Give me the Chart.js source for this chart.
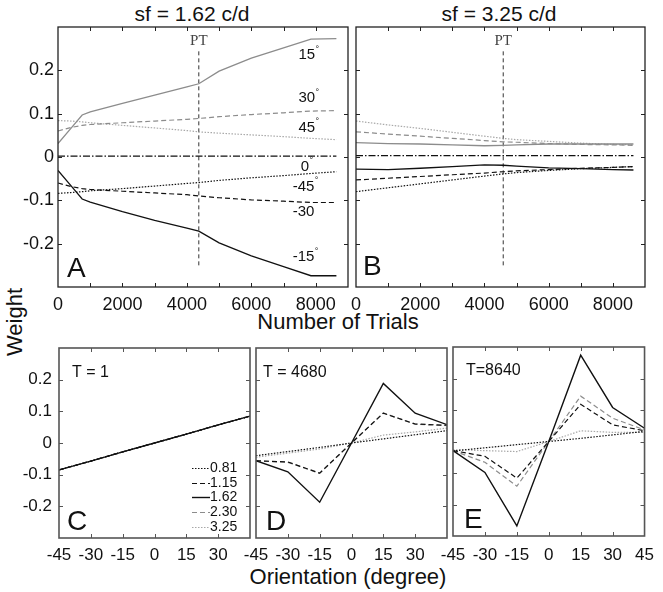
<!DOCTYPE html>
<html>
<head>
<meta charset="utf-8">
<script src="https://cdn.jsdelivr.net/npm/chart.js@4.4.1/dist/chart.umd.min.js"></script>
<style>
  body { margin: 0; background: #fff; }
  #fig { position: relative; width: 663px; height: 592px; overflow: hidden; font-family: "Liberation Sans", Arial, sans-serif; color: #111; }
  #fig canvas { position: absolute; left: 0; top: 0; }
  .lbl { position: absolute; white-space: nowrap; text-align: center; line-height: 1; }
</style>
</head>
<body>
<div id="fig">
  <div class="lbl" style="left:92px;width:200px;top:3px;font-size:21px">sf = 1.62 c/d</div>
  <div class="lbl" style="left:399px;width:200px;top:3px;font-size:21px">sf = 3.25 c/d</div>
  <div class="lbl" style="left:238px;width:200px;top:311px;font-size:22px">Number of Trials</div>
  <div class="lbl" style="left:-85px;width:200px;top:311px;font-size:22px;transform:rotate(-90deg)">Weight</div>
  <div class="lbl" style="left:198px;width:300px;top:566px;font-size:22px">Orientation (degree)</div>
</div>
<script>
// ---- data: top panels (weight vs number of trials) ----
const trialsA = [0, 400, 750, 1000, 2000, 3000, 4000, 4370, 5000, 6000, 7000, 7850, 8640];
const wA15  = [0.031, 0.066, 0.097, 0.104, 0.124, 0.143, 0.162, 0.169, 0.198, 0.228, 0.252, 0.272, 0.273];
const wA30  = [0.060, 0.068, 0.073, 0.075, 0.079, 0.083, 0.087, 0.089, 0.093, 0.098, 0.102, 0.106, 0.107];
const wA45  = [0.084, 0.083, 0.081, 0.079, 0.073, 0.067, 0.061, 0.058, 0.055, 0.051, 0.047, 0.043, 0.040];
const wA0   = [0.002, 0.002, 0.002, 0.002, 0.002, 0.002, 0.002, 0.002, 0.002, 0.002, 0.002, 0.002, 0.002];
const wAm15 = [-0.031, -0.066, -0.097, -0.104, -0.126, -0.146, -0.164, -0.171, -0.198, -0.228, -0.253, -0.274, -0.274];
const wAm30 = [-0.060, -0.068, -0.073, -0.075, -0.079, -0.083, -0.087, -0.090, -0.094, -0.099, -0.102, -0.105, -0.105];
const wAm45 = [-0.084, -0.082, -0.080, -0.078, -0.073, -0.067, -0.061, -0.059, -0.054, -0.048, -0.043, -0.038, -0.034];
const ptA = 4370;

const trialsB = [0, 1000, 2000, 3000, 4000, 4585, 5000, 6000, 7000, 8000, 8640];
const wB15  = [0.033, 0.031, 0.030, 0.028, 0.026, 0.027, 0.028, 0.030, 0.030, 0.030, 0.030];
const wB30  = [0.058, 0.053, 0.048, 0.043, 0.038, 0.035, 0.034, 0.031, 0.029, 0.028, 0.027];
const wB45  = [0.083, 0.074, 0.066, 0.057, 0.048, 0.043, 0.040, 0.036, 0.032, 0.029, 0.028];
const wB0   = [0.003, 0.003, 0.003, 0.003, 0.003, 0.003, 0.003, 0.003, 0.003, 0.003, 0.003];
const wBm15 = [-0.028, -0.029, -0.026, -0.022, -0.018, -0.019, -0.021, -0.025, -0.027, -0.029, -0.030];
const wBm30 = [-0.053, -0.049, -0.045, -0.041, -0.037, -0.034, -0.032, -0.029, -0.026, -0.024, -0.022];
const wBm45 = [-0.080, -0.071, -0.062, -0.053, -0.044, -0.039, -0.036, -0.031, -0.027, -0.024, -0.022];
const ptB = 4585;
const ptSpan = [-0.25, 0.25];

// ---- data: bottom panels (weight vs orientation, one series per sf) ----
const orient = [-45, -30, -15, 0, 15, 30, 45];
const sfNames = ['0.81', '1.15', '1.62', '2.30', '3.25'];
const c081 = [-0.085, -0.057, -0.028, 0, 0.028, 0.057, 0.085];
const c115 = [-0.085, -0.057, -0.028, 0, 0.028, 0.057, 0.085];
const c162 = [-0.085, -0.057, -0.028, 0, 0.028, 0.057, 0.085];
const c230 = [-0.085, -0.057, -0.028, 0, 0.028, 0.057, 0.085];
const c325 = [-0.085, -0.057, -0.028, 0, 0.028, 0.057, 0.085];
const d081 = [-0.040, -0.027, -0.014, 0, 0.013, 0.026, 0.039];
const d115 = [-0.056, -0.060, -0.095, 0, 0.094, 0.060, 0.056];
const d162 = [-0.056, -0.091, -0.187, 0, 0.188, 0.094, 0.058];
const d230 = [-0.056, -0.061, -0.096, 0, 0.095, 0.059, 0.055];
const d325 = [-0.045, -0.032, -0.019, 0, 0.025, 0.035, 0.047];
const e081 = [-0.030, -0.020, -0.010, 0, 0.010, 0.021, 0.032];
const e115 = [-0.029, -0.047, -0.116, 0, 0.118, 0.053, 0.034];
const e162 = [-0.029, -0.098, -0.268, 0, 0.274, 0.108, 0.042];
const e230 = [-0.029, -0.066, -0.142, 0, 0.144, 0.074, 0.037];
const e325 = [-0.026, -0.029, -0.032, 0, 0.034, 0.029, 0.029];

const W = 663, H = 592;
const BLACK = '#111', GRAY = '#8c8c8c', LGRAY = '#a8a8a8';
const DOT = [1.5, 1.5], DASH = [5, 3], DASHDOT = [7, 2, 1.5, 2];
const FAM = '"Liberation Sans", Arial, sans-serif';

Chart.defaults.font.family = FAM;
Chart.defaults.color = '#111';

function pts(xs, ys) { return xs.map((x, i) => ({ x, y: ys[i] })); }
function line(data, color, dash, width, label) {
    return { label, data, borderColor: color, borderDash: dash, borderWidth: width || 1.2,
             pointRadius: 0, tension: 0, fill: false };
}
function ptLine(x) {
    return line([{ x, y: ptSpan[0] }, { x, y: ptSpan[1] }], '#333', [4, 3], 1);
}

// box + inward tick marks, texts and the small legend (plain closure, no option proxies)
function decor(c) {
    return {
        id: 'decor',
        afterDatasetsDraw(chart) {
            const { ctx, chartArea: a, scales } = chart;
            ctx.save();
            ctx.setLineDash([]);
            ctx.strokeStyle = c.frame;
            ctx.lineWidth = 1;
            ctx.beginPath();
            scales.x.ticks.forEach(t => {
                const p = Math.round(scales.x.getPixelForValue(t.value)) + 0.5;
                if (p <= a.left + 2 || p >= a.right - 2) return;
                ctx.moveTo(p, a.bottom); ctx.lineTo(p, a.bottom - 4);
                ctx.moveTo(p, a.top); ctx.lineTo(p, a.top + 4);
            });
            scales.y.ticks.forEach(t => {
                const p = Math.round(scales.y.getPixelForValue(t.value)) + 0.5;
                if (p <= a.top + 2 || p >= a.bottom - 2) return;
                ctx.moveTo(a.left, p); ctx.lineTo(a.left + 4, p);
                ctx.moveTo(a.right, p); ctx.lineTo(a.right - 4, p);
            });
            ctx.stroke();
            ctx.lineWidth = c.frameW;
            ctx.strokeRect(a.left, a.top, a.right - a.left, a.bottom - a.top);

            (c.notes || []).forEach(n => {
                let x, y;
                if (n.at) { x = scales.x.getPixelForValue(n.at[0]); y = scales.y.getPixelForValue(n.at[1]); }
                else { x = a.left + n.dx; y = (n.top !== undefined) ? a.top + n.top : a.bottom - n.bottom; }
                ctx.font = n.font;
                ctx.fillStyle = n.color || '#111';
                ctx.textAlign = n.align || 'left';
                ctx.textBaseline = n.baseline || 'alphabetic';
                ctx.fillText(n.text, x, y);
                if (n.deg) {
                    const w = ctx.measureText(n.text).width;
                    const x0 = n.align === 'center' ? x + w / 2 : x + w;
                    ctx.font = '9px ' + FAM;
                    ctx.textAlign = 'left';
                    ctx.textBaseline = 'middle';
                    ctx.fillText('\u00b0', x0 + 0.5, y - 6);
                }
            });

            if (c.legend) {
                const L = c.legend, sets = chart.data.datasets;
                sets.forEach((ds, i) => {
                    const y = Math.round(a.bottom - L.bottom - (sets.length - 1 - i) * L.step) + 0.5;
                    const x1 = a.right - L.right;
                    ctx.strokeStyle = ds.borderColor;
                    ctx.lineWidth = ds.borderWidth;
                    ctx.setLineDash(ds.borderDash || []);
                    ctx.beginPath();
                    ctx.moveTo(x1 - 18, y); ctx.lineTo(x1, y);
                    ctx.stroke();
                    ctx.setLineDash([]);
                    ctx.font = L.font;
                    ctx.fillStyle = '#111';
                    ctx.textAlign = 'left';
                    ctx.textBaseline = 'middle';
                    ctx.fillText(ds.label, x1, y);
                });
            }
            ctx.restore();
        }
    };
}

function yTick(v) {
    const r = Math.round(v * 10) / 10;
    if (Math.abs(r) > 0.25) return '';
    return r === 0 ? '0' : r.toFixed(1);
}

function panel(c) {
    const cv = document.createElement('canvas');
    cv.width = W; cv.height = H;
    document.getElementById('fig').appendChild(cv);
    const yw = c.yLabels ? c.yw : 0;
    new Chart(cv, {
        type: 'line',
        data: { datasets: c.datasets },
        options: {
            responsive: false, animation: false, devicePixelRatio: 1,
            layout: { padding: { left: c.box[0] - yw, top: c.box[1], right: W - c.box[2], bottom: H - c.box[3] - c.xh } },
            plugins: { legend: { display: false }, tooltip: { enabled: false } },
            scales: {
                x: {
                    type: 'linear', min: c.xMin, max: c.xMax,
                    afterFit: s => { s.height = c.xh; },
                    grid: { display: false, drawTicks: false }, border: { display: false },
                    ticks: { stepSize: c.xStep, autoSkip: false, maxRotation: 0, padding: c.xPad,
                             font: { size: c.fs }, color: '#111', callback: c.xTick }
                },
                y: {
                    min: -0.3, max: 0.3,
                    afterFit: s => { s.width = yw; },
                    grid: { display: false, drawTicks: false }, border: { display: false },
                    ticks: { stepSize: 0.1, display: c.yLabels, padding: c.yPad,
                             font: { size: c.fs }, color: '#111', callback: yTick }
                }
            }
        },
        plugins: [decor(c)]
    });
}

const trialTick = v => (v % 2000 === 0 && v < 9000) ? String(v) : '';
const bigFont = '28px ' + FAM;
const letFont = '28px ' + FAM;
const angFont = '15px ' + FAM;
const ptFont = '15px "Liberation Serif", "Times New Roman", serif';
const tFont = '16px ' + FAM;

// A
panel({
    box: [58, 27, 348, 287], xh: 30, yw: 50, yLabels: true, xPad: 7, yPad: 4, fs: 18,
    xMin: 0, xMax: 9000, xStep: 1000, xTick: trialTick, frame: '#222', frameW: 1.3,
    datasets: [
        line(pts(trialsA, wA15), GRAY, [], 1.3),
        line(pts(trialsA, wA30), GRAY, DASH),
        line(pts(trialsA, wA45), LGRAY, DOT),
        line(pts(trialsA, wA0), BLACK, DASHDOT),
        line(pts(trialsA, wAm15), BLACK, [], 1.3),
        line(pts(trialsA, wAm30), BLACK, DASH),
        line(pts(trialsA, wAm45), BLACK, DOT),
        ptLine(ptA)
    ],
    notes: [
        { text: 'PT', at: [ptA, 0.25], font: ptFont, align: 'center', baseline: 'bottom', color: '#444' },
        { text: '15', at: [7720, 0.235], font: angFont, align: 'center', baseline: 'middle', deg: true },
        { text: '30', at: [7720, 0.136], font: angFont, align: 'center', baseline: 'middle', deg: true },
        { text: '45', at: [7720, 0.067], font: angFont, align: 'center', baseline: 'middle', deg: true },
        { text: '0', at: [7660, -0.023], font: angFont, align: 'center', baseline: 'middle', deg: true },
        { text: '-45', at: [7620, -0.069], font: angFont, align: 'center', baseline: 'middle', deg: true },
        { text: '-30', at: [7620, -0.127], font: angFont, align: 'center', baseline: 'middle' },
        { text: '-15', at: [7620, -0.231], font: angFont, align: 'center', baseline: 'middle', deg: true },
        { text: 'A', dx: 9, bottom: 10, font: bigFont }
    ]
});

// B
panel({
    box: [356, 27, 645, 287], xh: 30, yw: 0, yLabels: false, xPad: 7, yPad: 4, fs: 18,
    xMin: 0, xMax: 9000, xStep: 1000, xTick: trialTick, frame: '#222', frameW: 1.3,
    datasets: [
        line(pts(trialsB, wB15), GRAY, [], 1.3),
        line(pts(trialsB, wB30), GRAY, DASH),
        line(pts(trialsB, wB45), LGRAY, DOT),
        line(pts(trialsB, wB0), BLACK, DASHDOT),
        line(pts(trialsB, wBm15), BLACK, [], 1.3),
        line(pts(trialsB, wBm30), BLACK, DASH),
        line(pts(trialsB, wBm45), BLACK, DOT),
        ptLine(ptB)
    ],
    notes: [
        { text: 'PT', at: [ptB, 0.25], font: ptFont, align: 'center', baseline: 'bottom', color: '#444' },
        { text: 'B', dx: 7, bottom: 12, font: bigFont }
    ]
});

function sfSets(s081, s115, s162, s230, s325) {
    return [
        line(pts(orient, s081), BLACK, DOT, 1.2, sfNames[0]),
        line(pts(orient, s115), BLACK, DASH, 1.2, sfNames[1]),
        line(pts(orient, s162), BLACK, [], 1.4, sfNames[2]),
        line(pts(orient, s230), GRAY, DASH, 1.2, sfNames[3]),
        line(pts(orient, s325), LGRAY, DOT, 1.2, sfNames[4])
    ];
}
const orTick = v => v === 45 ? '' : String(v);
const orTickAll = v => String(v);

// C
panel({
    box: [59, 348, 250, 538], xh: 30, yw: 50, yLabels: true, xPad: 7, yPad: 7, fs: 17,
    xMin: -45, xMax: 45, xStep: 15, xTick: orTick, frame: '#555', frameW: 1.6,
    datasets: sfSets(c081, c115, c162, c230, c325),
    notes: [
        { text: 'T = 1', dx: 13, top: 29, font: tFont },
        { text: 'C', dx: 8, bottom: 8, font: letFont }
    ],
    legend: { right: 40, bottom: 11, step: 14.8, font: '14px ' + FAM }
});

// D
panel({
    box: [256, 348, 447, 538], xh: 30, yw: 0, yLabels: false, xPad: 7, yPad: 7, fs: 17,
    xMin: -45, xMax: 45, xStep: 15, xTick: orTick, frame: '#555', frameW: 1.6,
    datasets: sfSets(d081, d115, d162, d230, d325),
    notes: [
        { text: 'T = 4680', dx: 7, top: 29, font: tFont },
        { text: 'D', dx: 10, bottom: 8, font: letFont }
    ]
});

// E
panel({
    box: [453, 347, 647, 536], xh: 30, yw: 0, yLabels: false, xPad: 9, yPad: 7, fs: 17,
    xMin: -45, xMax: 45, xStep: 15, xTick: orTickAll, frame: '#555', frameW: 1.6,
    datasets: sfSets(e081, e115, e162, e230, e325),
    notes: [
        { text: 'T=8640', dx: 13, top: 28, font: tFont },
        { text: 'E', dx: 11, bottom: 8, font: letFont }
    ]
});
</script>
</body>
</html>
